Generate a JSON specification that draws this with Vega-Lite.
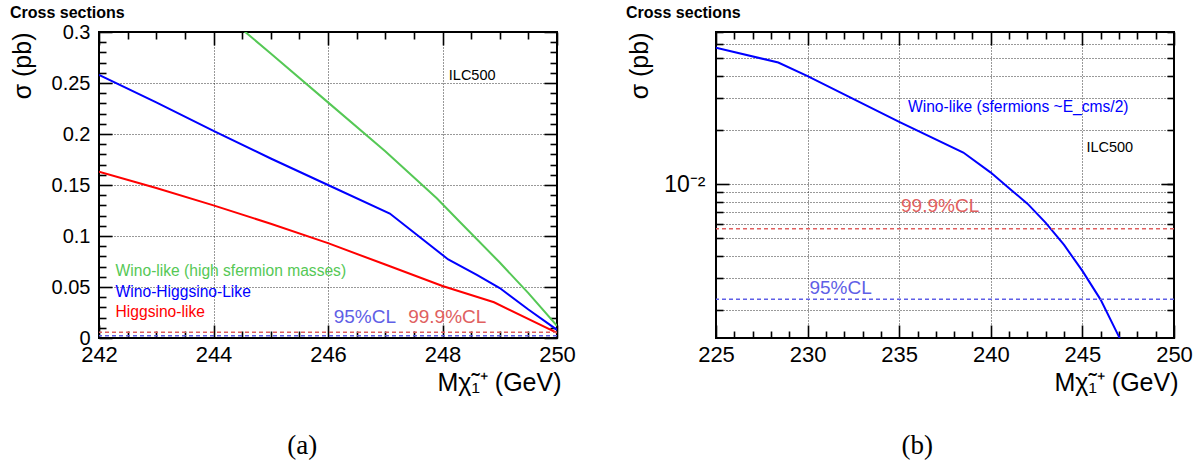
{
  "$schema": "https://vega.github.io/schema/vega-lite/v6.json",
  "autosize": {"type": "none"},
  "padding": {"left": 99, "top": 32, "right": 1105, "bottom": 432},
  "background": "white",
  "bounds": "flush",
  "spacing": 159,
  "config": {
    "view": {"stroke": "#000", "strokeWidth": 2},
    "axis": {
      "grid": false, "domain": false,
      "labelFont": "Liberation Sans", "titleFont": "Liberation Sans",
      "labelColor": "#000", "titleColor": "#000", "tickColor": "#000",
      "labelFlush": false, "labelOverlap": false, "labelBound": false,
      "titleFontWeight": "normal", "gridColor": "#000", "gridDash": [1, 2],
      "gridOpacity": 0.8, "gridWidth": 1, "tickWidth": 1.6
    },
    "text": {"font": "Liberation Sans"}
  },
  "hconcat": [
    {
      "width": 458, "height": 306,
      "data": {"values": [
        {"series": "Wino-like (high sfermion masses)", "m": 244.3, "s": 0.312},
        {"series": "Wino-like (high sfermion masses)", "m": 245, "s": 0.279},
        {"series": "Wino-like (high sfermion masses)", "m": 246, "s": 0.231},
        {"series": "Wino-like (high sfermion masses)", "m": 247, "s": 0.183},
        {"series": "Wino-like (high sfermion masses)", "m": 247.9, "s": 0.137},
        {"series": "Wino-like (high sfermion masses)", "m": 248.3, "s": 0.114},
        {"series": "Wino-like (high sfermion masses)", "m": 249, "s": 0.074},
        {"series": "Wino-like (high sfermion masses)", "m": 249.5, "s": 0.044},
        {"series": "Wino-like (high sfermion masses)", "m": 250, "s": 0.012},
        {"series": "Wino-Higgsino-Like", "m": 242, "s": 0.258},
        {"series": "Wino-Higgsino-Like", "m": 243, "s": 0.231},
        {"series": "Wino-Higgsino-Like", "m": 244, "s": 0.203},
        {"series": "Wino-Higgsino-Like", "m": 245, "s": 0.176},
        {"series": "Wino-Higgsino-Like", "m": 246, "s": 0.15},
        {"series": "Wino-Higgsino-Like", "m": 247.08, "s": 0.122},
        {"series": "Wino-Higgsino-Like", "m": 248.1, "s": 0.077},
        {"series": "Wino-Higgsino-Like", "m": 248.6, "s": 0.062},
        {"series": "Wino-Higgsino-Like", "m": 249, "s": 0.049},
        {"series": "Wino-Higgsino-Like", "m": 249.5, "s": 0.028},
        {"series": "Wino-Higgsino-Like", "m": 250, "s": 0.008},
        {"series": "Higgsino-like", "m": 242, "s": 0.163},
        {"series": "Higgsino-like", "m": 243, "s": 0.147},
        {"series": "Higgsino-like", "m": 244, "s": 0.13},
        {"series": "Higgsino-like", "m": 245, "s": 0.112},
        {"series": "Higgsino-like", "m": 246, "s": 0.093},
        {"series": "Higgsino-like", "m": 247, "s": 0.072},
        {"series": "Higgsino-like", "m": 248, "s": 0.051},
        {"series": "Higgsino-like", "m": 248.9, "s": 0.035},
        {"series": "Higgsino-like", "m": 250, "s": 0.005}
      ]},
      "resolve": {"axis": {"x": "independent", "y": "independent"}},
      "layer": [
        {
          "mark": {"type": "line", "strokeWidth": 2, "clip": true},
          "encoding": {
            "x": {"field": "m", "type": "quantitative",
              "scale": {"domain": [242, 250], "nice": false, "zero": false},
              "axis": {"orient": "bottom", "values": [242, 244, 246, 248, 250], "format": "d",
                "grid": true, "ticks": false, "tickSize": 0, "labelFontSize": 22, "labelPadding": 6,
                "title": "Mχ̃₁⁺ (GeV)", "titleFontSize": 25, "titleX": 462, "titleY": 52,
                "titleAlign": "right", "titleBaseline": "alphabetic"}},
            "y": {"field": "s", "type": "quantitative",
              "scale": {"domain": [0, 0.3], "nice": false, "zero": false},
              "axis": {"orient": "left", "values": [0, 0.05, 0.1, 0.15, 0.2, 0.25, 0.3], "format": "~g",
                "grid": true, "ticks": false, "tickSize": 0, "labelFontSize": 20, "labelPadding": 9,
                "title": "σ (pb)", "titleFontSize": 25, "titleX": -77, "titleY": 0, "titleAngle": 270,
                "titleAlign": "right", "titleBaseline": "middle"}},
            "color": {"field": "series", "type": "nominal", "legend": null,
              "scale": {"domain": ["Wino-like (high sfermion masses)", "Wino-Higgsino-Like", "Higgsino-like", "95%CL", "99.9%CL", "Wino-like (sfermions ~E_cms/2)", "label"],
                "range": ["#55c855", "#0000ff", "#ff0000", "#5f5fe6", "#e06060", "#0000ff", "#000000"]}}
          }
        },
        {
          "mark": {"type": "point", "opacity": 0},
          "encoding": {
            "x": {"field": "m", "type": "quantitative", "scale": {"domain": [242, 250], "nice": false, "zero": false},
              "axis": {"orient": "bottom", "values": [242, 244, 246, 248, 250], "labels": false, "ticks": true, "tickSize": 13, "offset": -13, "title": null}},
            "y": {"field": "s", "type": "quantitative", "scale": {"domain": [0, 0.3], "nice": false, "zero": false},
              "axis": {"orient": "left", "values": [0, 0.05, 0.1, 0.15, 0.2, 0.25, 0.3], "labels": false, "ticks": true, "tickSize": 13, "offset": -13, "title": null}}
          }
        },
        {
          "mark": {"type": "point", "opacity": 0},
          "encoding": {
            "x": {"field": "m", "type": "quantitative", "scale": {"domain": [242, 250], "nice": false, "zero": false},
              "axis": {"orient": "bottom", "values": [242.5, 243, 243.5, 244.5, 245, 245.5, 246.5, 247, 247.5, 248.5, 249, 249.5], "labels": false, "ticks": true, "tickSize": 7, "offset": -7, "title": null}},
            "y": {"field": "s", "type": "quantitative", "scale": {"domain": [0, 0.3], "nice": false, "zero": false},
              "axis": {"orient": "left", "values": [0.01, 0.02, 0.03, 0.04, 0.06, 0.07, 0.08, 0.09, 0.11, 0.12, 0.13, 0.14, 0.16, 0.17, 0.18, 0.19, 0.21, 0.22, 0.23, 0.24, 0.26, 0.27, 0.28, 0.29], "labels": false, "ticks": true, "tickSize": 7, "offset": -7, "title": null}}
          }
        },
        {
          "mark": {"type": "point", "opacity": 0},
          "encoding": {
            "x": {"field": "m", "type": "quantitative", "scale": {"domain": [242, 250], "nice": false, "zero": false},
              "axis": {"orient": "top", "values": [242, 244, 246, 248, 250], "labels": false, "ticks": true, "tickSize": 13, "offset": -13, "title": null}},
            "y": {"field": "s", "type": "quantitative", "scale": {"domain": [0, 0.3], "nice": false, "zero": false},
              "axis": {"orient": "right", "values": [0, 0.05, 0.1, 0.15, 0.2, 0.25, 0.3], "labels": false, "ticks": true, "tickSize": 13, "offset": -13, "title": null}}
          }
        },
        {
          "mark": {"type": "point", "opacity": 0},
          "encoding": {
            "x": {"field": "m", "type": "quantitative", "scale": {"domain": [242, 250], "nice": false, "zero": false},
              "axis": {"orient": "top", "values": [242.5, 243, 243.5, 244.5, 245, 245.5, 246.5, 247, 247.5, 248.5, 249, 249.5], "labels": false, "ticks": true, "tickSize": 7, "offset": -7, "title": null}},
            "y": {"field": "s", "type": "quantitative", "scale": {"domain": [0, 0.3], "nice": false, "zero": false},
              "axis": {"orient": "right", "values": [0.01, 0.02, 0.03, 0.04, 0.06, 0.07, 0.08, 0.09, 0.11, 0.12, 0.13, 0.14, 0.16, 0.17, 0.18, 0.19, 0.21, 0.22, 0.23, 0.24, 0.26, 0.27, 0.28, 0.29], "labels": false, "ticks": true, "tickSize": 7, "offset": -7, "title": null}}
          }
        },
        {
          "data": {"values": [{"series": "95%CL", "s": 0.0023}, {"series": "99.9%CL", "s": 0.0057}]},
          "mark": {"type": "rule", "strokeDash": [4, 3], "strokeWidth": 1.5},
          "encoding": {
            "y": {"field": "s", "type": "quantitative", "axis": null},
            "color": {"field": "series", "type": "nominal", "legend": null}
          }
        },
        {
          "data": {"values": [
            {"series": "Wino-like (high sfermion masses)", "label": "Wino-like (high sfermion masses)", "m": 242.29, "s": 0.066},
            {"series": "Wino-Higgsino-Like", "label": "Wino-Higgsino-Like", "m": 242.29, "s": 0.0454},
            {"series": "Higgsino-like", "label": "Higgsino-like", "m": 242.29, "s": 0.0255}
          ]},
          "mark": {"type": "text", "align": "left", "baseline": "middle", "fontSize": 15.6},
          "encoding": {
            "x": {"field": "m", "type": "quantitative", "axis": null},
            "y": {"field": "s", "type": "quantitative", "axis": null},
            "text": {"field": "label"},
            "color": {"field": "series", "type": "nominal", "legend": null}
          }
        },
        {
          "data": {"values": [
            {"series": "95%CL", "label": "95%CL", "m": 246.1, "s": 0.0209},
            {"series": "99.9%CL", "label": "99.9%CL", "m": 247.4, "s": 0.0209}
          ]},
          "mark": {"type": "text", "align": "left", "baseline": "middle", "fontSize": 19},
          "encoding": {
            "x": {"field": "m", "type": "quantitative", "axis": null},
            "y": {"field": "s", "type": "quantitative", "axis": null},
            "text": {"field": "label"},
            "color": {"field": "series", "type": "nominal", "legend": null}
          }
        },
        {
          "data": {"values": [{"series": "label", "label": "ILC500", "m": 248.11, "s": 0.257}]},
          "mark": {"type": "text", "align": "left", "baseline": "middle", "fontSize": 14.5},
          "encoding": {
            "x": {"field": "m", "type": "quantitative", "axis": null},
            "y": {"field": "s", "type": "quantitative", "axis": null},
            "text": {"field": "label"},
            "color": {"field": "series", "type": "nominal", "legend": null}
          }
        },
        {
          "data": {"values": [{"series": "label", "label": "Cross sections", "m": 240.445, "s": 0.3189}]},
          "mark": {"type": "text", "align": "left", "baseline": "middle", "fontSize": 16, "fontWeight": "bold"},
          "encoding": {
            "x": {"field": "m", "type": "quantitative", "axis": null},
            "y": {"field": "s", "type": "quantitative", "axis": null},
            "text": {"field": "label"},
            "color": {"field": "series", "type": "nominal", "legend": null}
          }
        },
        {
          "data": {"values": [{"series": "label", "label": "(a)", "m": 245.55, "s": -0.1056}]},
          "mark": {"type": "text", "align": "center", "baseline": "middle", "fontSize": 27, "font": "Liberation Serif"},
          "encoding": {
            "x": {"field": "m", "type": "quantitative", "axis": null},
            "y": {"field": "s", "type": "quantitative", "axis": null},
            "text": {"field": "label"},
            "color": {"field": "series", "type": "nominal", "legend": null}
          }
        }
      ]
    },
    {
      "width": 458, "height": 306,
      "data": {"values": [
        {"series": "Wino-like (sfermions ~E_cms/2)", "m": 225, "s": 0.0572},
        {"series": "Wino-like (sfermions ~E_cms/2)", "m": 228.4, "s": 0.0474},
        {"series": "Wino-like (sfermions ~E_cms/2)", "m": 230, "s": 0.0398},
        {"series": "Wino-like (sfermions ~E_cms/2)", "m": 235, "s": 0.0222},
        {"series": "Wino-like (sfermions ~E_cms/2)", "m": 238.5, "s": 0.015},
        {"series": "Wino-like (sfermions ~E_cms/2)", "m": 240, "s": 0.0116},
        {"series": "Wino-like (sfermions ~E_cms/2)", "m": 241, "s": 0.0095},
        {"series": "Wino-like (sfermions ~E_cms/2)", "m": 242, "s": 0.0078},
        {"series": "Wino-like (sfermions ~E_cms/2)", "m": 243, "s": 0.0061},
        {"series": "Wino-like (sfermions ~E_cms/2)", "m": 244, "s": 0.0046},
        {"series": "Wino-like (sfermions ~E_cms/2)", "m": 245, "s": 0.0033},
        {"series": "Wino-like (sfermions ~E_cms/2)", "m": 246, "s": 0.00228},
        {"series": "Wino-like (sfermions ~E_cms/2)", "m": 247, "s": 0.00142},
        {"series": "Wino-like (sfermions ~E_cms/2)", "m": 247.5, "s": 0.0011}
      ]},
      "resolve": {"axis": {"x": "independent", "y": "independent"}},
      "layer": [
        {
          "mark": {"type": "line", "strokeWidth": 2, "clip": true},
          "encoding": {
            "x": {"field": "m", "type": "quantitative",
              "scale": {"domain": [225, 250], "nice": false, "zero": false},
              "axis": {"orient": "bottom", "values": [225, 230, 235, 240, 245, 250], "format": "d",
                "grid": true, "ticks": false, "tickSize": 0, "labelFontSize": 22, "labelPadding": 6,
                "title": "Mχ̃₁⁺ (GeV)", "titleFontSize": 25, "titleX": 462, "titleY": 52,
                "titleAlign": "right", "titleBaseline": "alphabetic"}},
            "y": {"field": "s", "type": "quantitative",
              "scale": {"type": "log", "domain": [0.0014, 0.07], "nice": false},
              "axis": {"orient": "left", "values": [0.01], "labelExpr": "'10⁻²'",
                "grid": false, "ticks": false, "tickSize": 0, "labelFontSize": 23, "labelPadding": 11,
                "title": "σ (pb)", "titleFontSize": 25, "titleX": -77, "titleY": 0, "titleAngle": 270,
                "titleAlign": "right", "titleBaseline": "middle"}},
            "color": {"field": "series", "type": "nominal", "legend": null,
              "scale": {"domain": ["Wino-like (high sfermion masses)", "Wino-Higgsino-Like", "Higgsino-like", "95%CL", "99.9%CL", "Wino-like (sfermions ~E_cms/2)", "label"],
                "range": ["#55c855", "#0000ff", "#ff0000", "#5f5fe6", "#e06060", "#0000ff", "#000000"]}}
          }
        },
        {
          "mark": {"type": "point", "opacity": 0},
          "encoding": {
            "x": {"field": "m", "type": "quantitative", "scale": {"domain": [225, 250], "nice": false, "zero": false},
              "axis": {"orient": "bottom", "values": [225, 230, 235, 240, 245, 250], "labels": false, "ticks": true, "tickSize": 13, "offset": -13, "title": null}},
            "y": {"field": "s", "type": "quantitative", "scale": {"type": "log", "domain": [0.0014, 0.07], "nice": false},
              "axis": {"orient": "left", "values": [0.01], "labels": false, "ticks": true, "tickSize": 13, "offset": -13, "title": null}}
          }
        },
        {
          "mark": {"type": "point", "opacity": 0},
          "encoding": {
            "x": {"field": "m", "type": "quantitative", "scale": {"domain": [225, 250], "nice": false, "zero": false},
              "axis": {"orient": "bottom", "values": [226, 227, 228, 229, 231, 232, 233, 234, 236, 237, 238, 239, 241, 242, 243, 244, 246, 247, 248, 249], "labels": false, "ticks": true, "tickSize": 7, "offset": -7, "title": null}},
            "y": {"field": "s", "type": "quantitative", "scale": {"type": "log", "domain": [0.0014, 0.07], "nice": false},
              "axis": {"orient": "left", "values": [0.002, 0.003, 0.004, 0.005, 0.006, 0.007, 0.008, 0.009, 0.02, 0.03, 0.04, 0.05, 0.06, 0.07], "labels": false, "ticks": true, "tickSize": 7, "offset": -7, "title": null}}
          }
        },
        {
          "mark": {"type": "point", "opacity": 0},
          "encoding": {
            "x": {"field": "m", "type": "quantitative", "scale": {"domain": [225, 250], "nice": false, "zero": false},
              "axis": {"orient": "top", "values": [225, 230, 235, 240, 245, 250], "labels": false, "ticks": true, "tickSize": 13, "offset": -13, "title": null}},
            "y": {"field": "s", "type": "quantitative", "scale": {"type": "log", "domain": [0.0014, 0.07], "nice": false},
              "axis": {"orient": "right", "values": [0.002, 0.003, 0.004, 0.005, 0.006, 0.007, 0.008, 0.009, 0.01, 0.02, 0.03, 0.04, 0.05, 0.06, 0.07], "labels": false, "grid": true, "ticks": true, "tickSize": 7, "offset": -7, "title": null}}
          }
        },
        {
          "mark": {"type": "point", "opacity": 0},
          "encoding": {
            "x": {"field": "m", "type": "quantitative", "scale": {"domain": [225, 250], "nice": false, "zero": false},
              "axis": {"orient": "top", "values": [226, 227, 228, 229, 231, 232, 233, 234, 236, 237, 238, 239, 241, 242, 243, 244, 246, 247, 248, 249], "labels": false, "ticks": true, "tickSize": 7, "offset": -7, "title": null}},
            "y": {"field": "s", "type": "quantitative", "scale": {"type": "log", "domain": [0.0014, 0.07], "nice": false},
              "axis": {"orient": "right", "values": [0.01], "labels": false, "ticks": true, "tickSize": 13, "offset": -13, "title": null}}
          }
        },
        {
          "data": {"values": [{"series": "95%CL", "s": 0.0023}, {"series": "99.9%CL", "s": 0.00565}]},
          "mark": {"type": "rule", "strokeDash": [4, 3], "strokeWidth": 1.5},
          "encoding": {
            "y": {"field": "s", "type": "quantitative", "axis": null},
            "color": {"field": "series", "type": "nominal", "legend": null}
          }
        },
        {
          "data": {"values": [
            {"series": "Wino-like (sfermions ~E_cms/2)", "label": "Wino-like (sfermions ~E_cms/2)", "m": 235.48, "s": 0.02688}
          ]},
          "mark": {"type": "text", "align": "left", "baseline": "middle", "fontSize": 15.6},
          "encoding": {
            "x": {"field": "m", "type": "quantitative", "axis": null},
            "y": {"field": "s", "type": "quantitative", "axis": null},
            "text": {"field": "label"},
            "color": {"field": "series", "type": "nominal", "legend": null}
          }
        },
        {
          "data": {"values": [
            {"series": "95%CL", "label": "95%CL", "m": 230.1, "s": 0.00267},
            {"series": "99.9%CL", "label": "99.9%CL", "m": 235.1, "s": 0.00755}
          ]},
          "mark": {"type": "text", "align": "left", "baseline": "middle", "fontSize": 19},
          "encoding": {
            "x": {"field": "m", "type": "quantitative", "axis": null},
            "y": {"field": "s", "type": "quantitative", "axis": null},
            "text": {"field": "label"},
            "color": {"field": "series", "type": "nominal", "legend": null}
          }
        },
        {
          "data": {"values": [{"series": "label", "label": "ILC500", "m": 245.22, "s": 0.0159}]},
          "mark": {"type": "text", "align": "left", "baseline": "middle", "fontSize": 14.5},
          "encoding": {
            "x": {"field": "m", "type": "quantitative", "axis": null},
            "y": {"field": "s", "type": "quantitative", "axis": null},
            "text": {"field": "label"},
            "color": {"field": "series", "type": "nominal", "legend": null}
          }
        },
        {
          "data": {"values": [{"series": "label", "label": "Cross sections", "m": 220.09, "s": 0.0894}]},
          "mark": {"type": "text", "align": "left", "baseline": "middle", "fontSize": 16, "fontWeight": "bold"},
          "encoding": {
            "x": {"field": "m", "type": "quantitative", "axis": null},
            "y": {"field": "s", "type": "quantitative", "axis": null},
            "text": {"field": "label"},
            "color": {"field": "series", "type": "nominal", "legend": null}
          }
        },
        {
          "data": {"values": [{"series": "label", "label": "(b)", "m": 235.99, "s": 0.000352}]},
          "mark": {"type": "text", "align": "center", "baseline": "middle", "fontSize": 27, "font": "Liberation Serif"},
          "encoding": {
            "x": {"field": "m", "type": "quantitative", "axis": null},
            "y": {"field": "s", "type": "quantitative", "axis": null},
            "text": {"field": "label"},
            "color": {"field": "series", "type": "nominal", "legend": null}
          }
        }
      ]
    }
  ]
}
